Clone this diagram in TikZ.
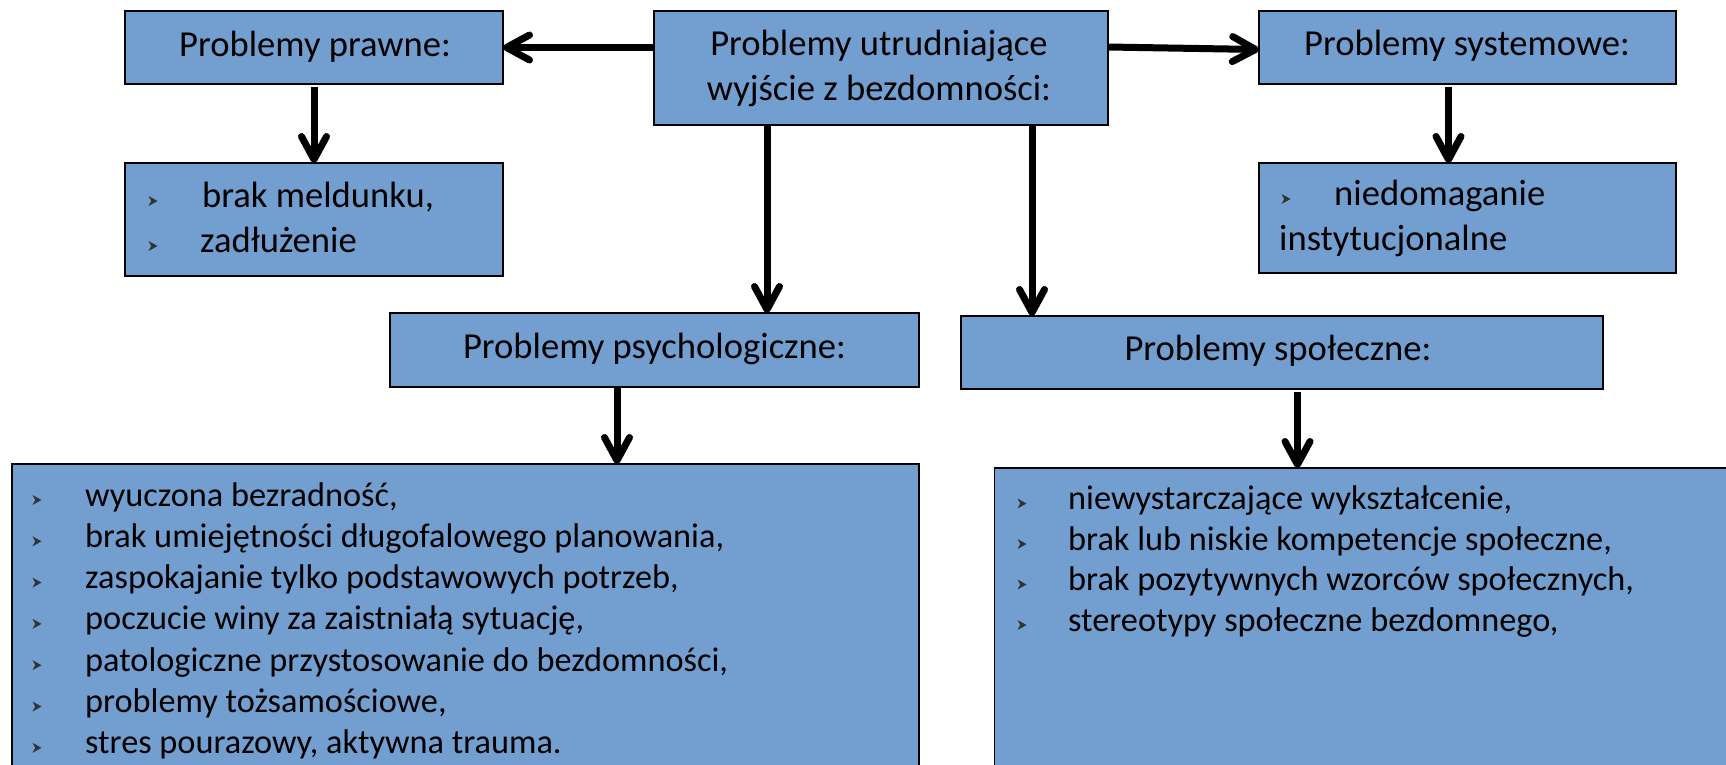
\documentclass[tikz,border=0pt]{standalone}
\usepackage{fontspec}
\setmainfont{Carlito}
\usetikzlibrary{arrows.meta}
\definecolor{boxblue}{RGB}{114,159,207}
\begin{document}
\begin{tikzpicture}[x=1pt,y=-1pt,
  box/.style={draw=black, line width=1.6pt, fill=boxblue, inner sep=0pt, outer sep=0pt, anchor=north west},
  big/.style={font=\fontsize{36.6}{44}\selectfont, inner sep=0pt, anchor=base},
  bigitem/.style={font=\fontsize{36.6}{44}\selectfont, inner sep=0pt, anchor=base west},
  item/.style={font=\fontsize{34.3}{41}\selectfont, inner sep=0pt, anchor=base west},
  arr/.style={line width=7pt, -{Straight Barb[round,length=23pt,width=25pt]}},
  bul/.pic={\fill[black!80] (-4.5,-5) -- (4.5,0) -- (-4.5,5) -- (-1.8,0) -- cycle;}
]
\useasboundingbox (0,0) rectangle (1726,764);
\clip (0,0) rectangle (1726,764);

% boxes
\node[box, minimum width=378pt, minimum height=73pt] (pr) at (125,11) {};
\node[box, minimum width=454pt, minimum height=114pt] (ce) at (654,11) {};
\node[box, minimum width=417pt, minimum height=73pt] (sy) at (1259,11) {};
\node[box, minimum width=378pt, minimum height=113pt] (br) at (125,163) {};
\node[box, minimum width=417pt, minimum height=110pt] (ni) at (1259,163) {};
\node[box, minimum width=529pt, minimum height=74pt] (ps) at (390,313) {};
\node[box, minimum width=642pt, minimum height=73pt] (sp) at (961,316) {};
\node[box, minimum width=907pt, minimum height=310pt] (pl) at (12,464) {};
\node[box, minimum width=740pt, minimum height=306pt] (sl) at (994.5,468) {};

% connectors
\draw[arr] (ce.west |- pr.east) -- (pr.east);
\draw[arr] ([yshift=21pt]ce.east) -- ([yshift=-2pt]sy.west);
\draw[arr] ([yshift=-3pt]pr.south) -- (br.north);
\draw[arr] ([xshift=-19pt,yshift=-3pt]sy.south) coordinate (s1) -- (s1 |- ni.north);
\draw[arr] ([xshift=-114pt]ce.south) coordinate (c1) -- (c1 |- ps.north);
\draw[arr] ([xshift=151pt]ce.south) coordinate (c2) -- (c2 |- sp.north);
\draw[arr] ([xshift=-37.5pt]ps.south) coordinate (p1) -- (p1 |- pl.north);
\draw[arr] ([xshift=15.5pt,yshift=-3pt]sp.south) coordinate (q1) -- (q1 |- sl.north);

% titles
\node[big] (prt) at (315,56) {Problemy prawne:};
\node[big] (ce1) at (879,55) {Problemy utrudniające};
\node[big] (ce2) at (879,100) {wyjście z bezdomności:};
\node[big] (syt) at (1467,55) {Problemy systemowe:};
\node[big] (pst) at (654.5,358) {Problemy psychologiczne:};
\node[big] (spt) at (1278,360) {Problemy społeczne:};

% small lists
\node[bigitem] (b1) at (202,207) {brak meldunku,};
\pic at (153,201) {bul};
\node[bigitem] (b2) at (200,252) {zadłużenie};
\pic at (153,246) {bul};
\node[bigitem] (n1) at (1334,205) {niedomaganie};
\pic at (1286,199) {bul};
\node[bigitem] (n2) at (1279,250) {instytucjonalne};

% psychological list
\foreach \t [count=\i] in {{wyuczona bezradność,},{brak umiejętności długofalowego planowania,},{zaspokajanie tylko podstawowych potrzeb,},{poczucie winy za zaistniałą sytuację,},{patologiczne przystosowanie do bezdomności,},{problemy tożsamościowe,},{stres pourazowy, aktywna trauma.}} {
  \node[item] (pl\i) at (85,{506+41.3*(\i-1)}) {\t};
  \pic at (37,{500+41.3*(\i-1)}) {bul};
}

% social list
\foreach \t [count=\i] in {{niewystarczające wykształcenie,},{brak lub niskie kompetencje społeczne,},{brak pozytywnych wzorców społecznych,},{stereotypy społeczne bezdomnego,}} {
  \node[item] (sl\i) at (1068,{509.5+40.5*(\i-1)}) {\t};
  \pic at (1022,{503.5+40.5*(\i-1)}) {bul};
}
\end{tikzpicture}
\end{document}
